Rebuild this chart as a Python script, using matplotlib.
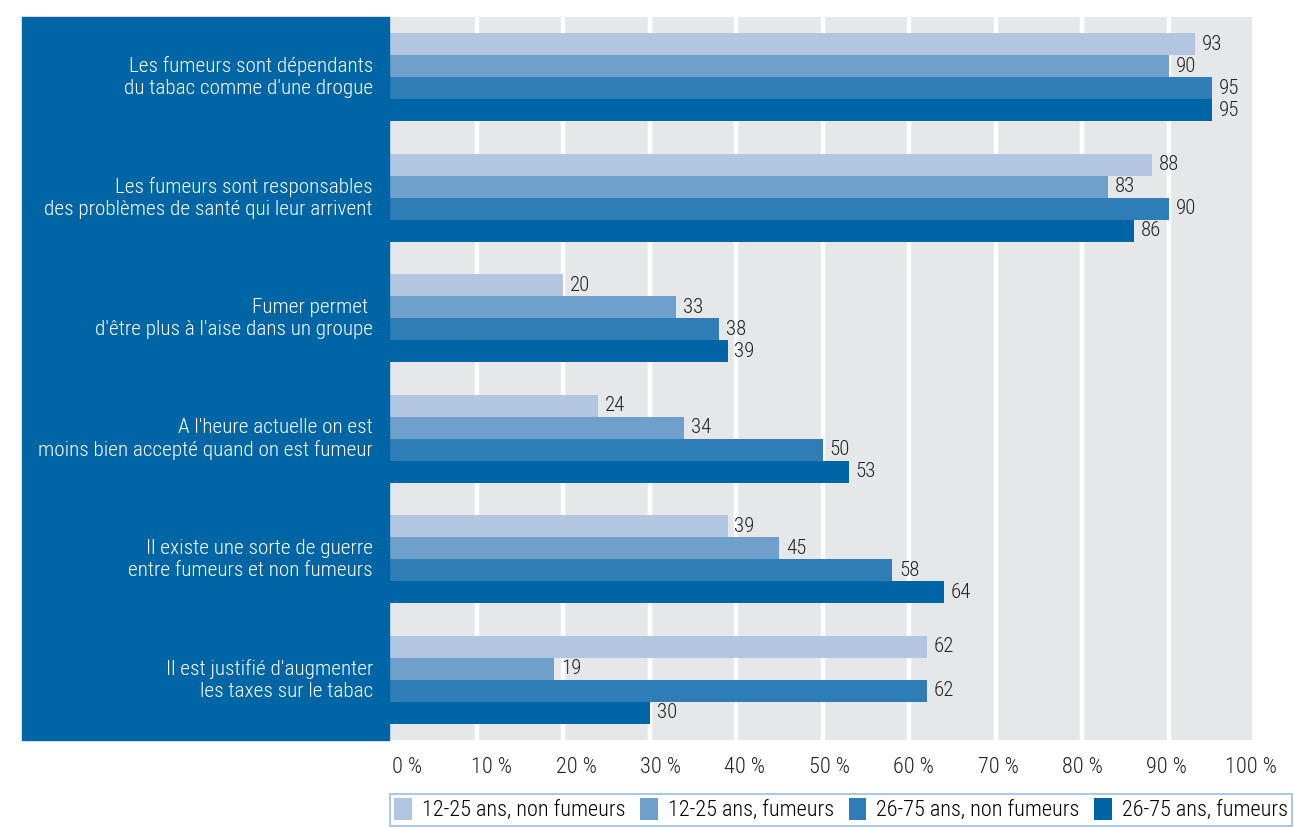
import matplotlib
matplotlib.use("Agg")
import matplotlib.pyplot as plt
import numpy as np
from matplotlib.patches import Rectangle, Patch

plt.rcParams["font.family"] = ["Roboto Condensed", "DejaVu Sans"]
plt.rcParams["font.weight"] = 300

# data
categories = [
    "Les fumeurs sont dépendants\ndu tabac comme d'une drogue",
    "Les fumeurs sont responsables\ndes problèmes de santé qui leur arrivent",
    "Fumer permet \nd'être plus à l'aise dans un groupe",
    "A l'heure actuelle on est\nmoins bien accepté quand on est fumeur",
    "Il existe une sorte de guerre\nentre fumeurs et non fumeurs",
    "Il est justifié d'augmenter\nles taxes sur le tabac",
]
series_names = ["12-25 ans, non fumeurs", "12-25 ans, fumeurs",
                "26-75 ans, non fumeurs", "26-75 ans, fumeurs"]
young_non = [93, 88, 20, 24, 39, 62]
young_smk = [90, 83, 33, 34, 45, 19]
old_non = [95, 90, 38, 50, 58, 62]
old_smk = [95, 86, 39, 53, 64, 30]
tick_vals = [0, 10, 20, 30, 40, 50, 60, 70, 80, 90, 100]

series = [young_non, young_smk, old_non, old_smk]
colors = ["#b2c6e1", "#6f9fcb", "#2f7db7", "#0065a5"]
PANEL = "#0065a5"
GREY = "#e6e7e9"

W, H = 1294, 827
fig = plt.figure(figsize=(W / 100, H / 100), dpi=100)

# blue label panel
fig.patches.append(Rectangle((22 / W, 1 - 740 / H), (389 - 22) / W, (740 - 17) / H,
                             transform=fig.transFigure, color=PANEL, zorder=0))

ax = fig.add_axes([390 / W, 1 - 740 / H, (1252 - 390) / W, (740 - 17) / H])
ax.set_facecolor(GREY)
for s in ax.spines.values():
    s.set_visible(False)

n = len(categories)
bh = 0.182
y = np.arange(n)
for i, (vals, c) in enumerate(zip(series, colors)):
    pos = y + (i - 1.5) * bh
    ax.barh(pos, vals, height=bh, color=c, zorder=3)
    for p, v in zip(pos, vals):
        ax.annotate(f"{v}", (v, p), xytext=(5, 0), textcoords="offset points",
                    va="center", ha="left", fontsize=15, color="#222222", zorder=4)

ax.set_ylim(n - 0.5, -0.5)
ax.set_xlim(0, 99.6)
ax.set_yticks([])
for g in tick_vals[1:-1]:
    ax.axvline(g, color="white", lw=3.2, zorder=1)

ax.set_xticks([2 + 0.975 * v for v in tick_vals])
ax.set_xticklabels([f"{v} %" for v in tick_vals], fontsize=16, color="#222222")
ax.tick_params(axis="x", length=0, pad=12)

# category labels in the blue panel
for yi, cat in zip(y, categories):
    fy = ax.transData.transform((0, yi))[1]
    fig.text(373 / W, fy / (fig.dpi * fig.get_figheight()), cat, ha="right",
             va="center", color="white", fontsize=15.3, linespacing=1.2)

handles = [Patch(facecolor=c, edgecolor="none") for c in colors]
leg = fig.legend(handles, series_names, loc="upper left",
                 bbox_to_anchor=(390 / W, 1 - 794 / H), ncol=4, fontsize=16,
                 frameon=True, fancybox=False, borderpad=0.2,
                 handlelength=0.8, handleheight=1.1, handletextpad=0.45,
                 columnspacing=0.65, borderaxespad=0)
leg.get_frame().set_edgecolor("#7fb0dc")
leg.get_frame().set_linewidth(1.2)

fig.savefig("out.png", dpi=100)
